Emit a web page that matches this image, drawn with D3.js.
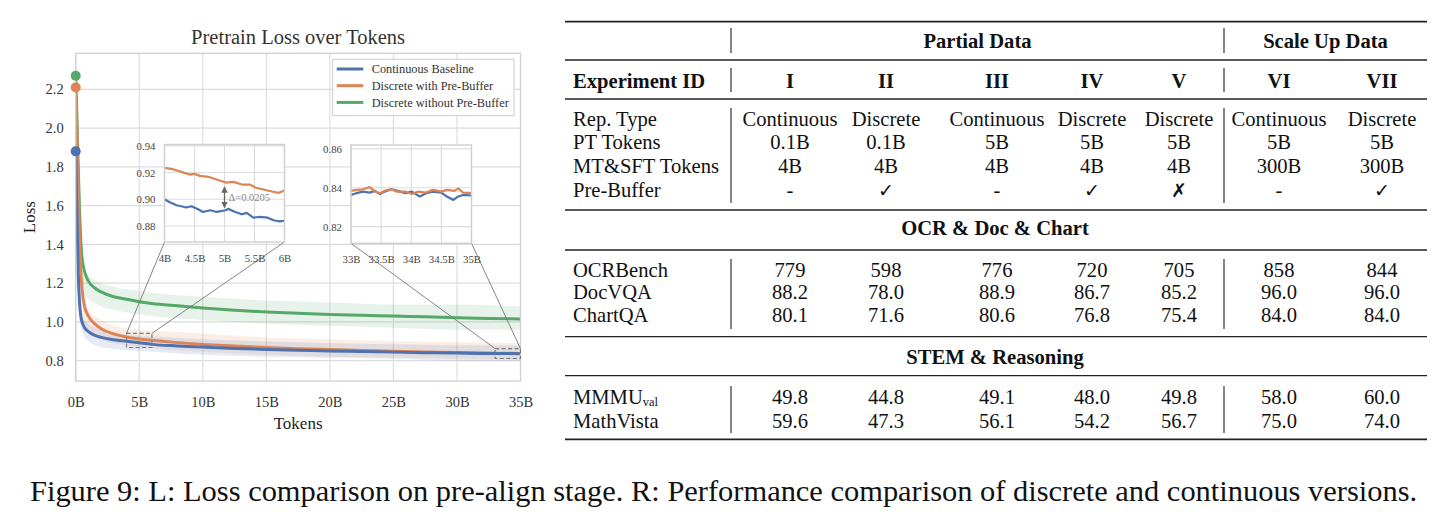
<!DOCTYPE html>
<html><head><meta charset="utf-8">
<script src="https://cdn.jsdelivr.net/npm/d3@7"></script>
<style>
html,body{margin:0;padding:0;background:#fff;}
svg{display:block;}
text{font-family:"Liberation Serif","Times New Roman",serif;}
</style></head>
<body>
<svg id="fig" width="1448" height="523" font-family='"Liberation Serif","Times New Roman",serif'></svg>
<script>
// ---------------- DATA ----------------
const seriesNames = ["Continuous Baseline", "Discrete with Pre-Buffer", "Discrete without Pre-Buffer"];
const tokensB   = [0, 0.1, 0.2, 0.3, 0.4, 0.5, 0.7, 1.0, 1.5, 2, 3, 4, 5, 6, 8, 10, 12.5, 15, 17.5, 20, 22.5, 25, 27.5, 30, 32.5, 35];
const lossBlue  = [1.88, 1.55, 1.25, 1.10, 1.03, 1.00, 0.970, 0.950, 0.930, 0.920, 0.908, 0.900, 0.892, 0.884, 0.876, 0.870, 0.863, 0.858, 0.854, 0.850, 0.847, 0.844, 0.841, 0.839, 0.837, 0.836];
const lossOrange= [2.21, 1.95, 1.70, 1.45, 1.27, 1.17, 1.08, 1.030, 0.990, 0.965, 0.938, 0.922, 0.912, 0.905, 0.893, 0.884, 0.875, 0.868, 0.862, 0.857, 0.853, 0.849, 0.845, 0.842, 0.839, 0.837];
const lossGreen = [2.27, 2.05, 1.80, 1.58, 1.42, 1.33, 1.26, 1.210, 1.175, 1.155, 1.130, 1.117, 1.104, 1.095, 1.083, 1.072, 1.060, 1.051, 1.044, 1.038, 1.034, 1.030, 1.026, 1.022, 1.018, 1.015];

// raw-loss envelopes (faint bands)
const bandX        = [0.3, 0.5, 1, 2, 3, 5, 7.5, 10, 15, 20, 25, 30, 35];
const blueUpper    = [1.12, 1.04, 0.99, 0.96, 0.94, 0.93, 0.92, 0.91, 0.90, 0.89, 0.885, 0.88, 0.88];
const blueLower    = [1.00, 0.95, 0.90, 0.87, 0.86, 0.85, 0.84, 0.83, 0.82, 0.815, 0.81, 0.80, 0.80];
const orangeUpper  = [1.25, 1.12, 1.06, 1.01, 0.98, 0.96, 0.95, 0.94, 0.92, 0.91, 0.90, 0.895, 0.89];
const orangeLower  = [1.08, 1.02, 0.96, 0.91, 0.89, 0.87, 0.855, 0.845, 0.83, 0.82, 0.815, 0.81, 0.805];
const greenUpper   = [1.30, 1.27, 1.24, 1.20, 1.18, 1.16, 1.14, 1.13, 1.11, 1.10, 1.09, 1.09, 1.08];
const greenLower   = [1.20, 1.15, 1.12, 1.08, 1.06, 1.04, 1.02, 1.01, 0.99, 0.98, 0.97, 0.96, 0.96];

const xTicks = [0, 5, 10, 15, 20, 25, 30, 35];
const yTicks = [0.8, 1.0, 1.2, 1.4, 1.6, 1.8, 2.0, 2.2];

// inset 1 (4B - 6B)
const in1OrangeX = [4.00, 4.14, 4.28, 4.42, 4.50, 4.59, 4.73, 4.87, 5.02, 5.15, 5.29, 5.43, 5.51, 5.65, 5.79, 5.90, 5.96, 6.00];
const in1OrangeY = [0.9235, 0.9225, 0.9205, 0.9185, 0.919, 0.9175, 0.9168, 0.9148, 0.9125, 0.913, 0.911, 0.911, 0.9088, 0.9073, 0.9058, 0.9048, 0.9058, 0.9068];
const in1BlueX   = [4.00, 4.08, 4.20, 4.28, 4.36, 4.45, 4.56, 4.64, 4.76, 4.87, 5.02, 5.06, 5.18, 5.29, 5.37, 5.48, 5.60, 5.71, 5.82, 5.90, 6.00];
const in1BlueY   = [0.900, 0.898, 0.8955, 0.8948, 0.8938, 0.8948, 0.8925, 0.8905, 0.8918, 0.8905, 0.8918, 0.8928, 0.8905, 0.8888, 0.8898, 0.8863, 0.8868, 0.8863, 0.8843, 0.8835, 0.8838];
const in1XTicks = [4, 4.5, 5, 5.5, 6];
const in1XLabels = ["4B", "4.5B", "5B", "5.5B", "6B"];
const in1YTicks = [0.88, 0.90, 0.92, 0.94];
const in1Domain = [0.868, 0.941];
const deltaLabel = "Δ=0.0205";
const deltaAt = 5.0, deltaTop = 0.9093, deltaBottom = 0.8938;

// inset 2 (33B - 35B)
const in2OrangeX = [33.00, 33.09, 33.20, 33.31, 33.40, 33.48, 33.56, 33.67, 33.76, 33.90, 34.01, 34.12, 34.25, 34.36, 34.50, 34.59, 34.72, 34.78, 34.86, 35.00];
const in2OrangeY = [0.8384, 0.8389, 0.8392, 0.8403, 0.8380, 0.8372, 0.8385, 0.8392, 0.8380, 0.8380, 0.8368, 0.8380, 0.8375, 0.8389, 0.8380, 0.8389, 0.8384, 0.8397, 0.8375, 0.8372];
const in2BlueX   = [33.00, 33.09, 33.20, 33.31, 33.40, 33.48, 33.56, 33.67, 33.78, 33.90, 34.01, 34.14, 34.25, 34.36, 34.50, 34.59, 34.70, 34.78, 34.86, 35.00];
const in2BlueY   = [0.8363, 0.8372, 0.8380, 0.8375, 0.8384, 0.8367, 0.8380, 0.8392, 0.8384, 0.8372, 0.8380, 0.8355, 0.8372, 0.8380, 0.8375, 0.8355, 0.8337, 0.8355, 0.8363, 0.8360];
const in2XTicks = [33, 33.5, 34, 34.5, 35];
const in2XLabels = ["33B", "33.5B", "34B", "34.5B", "35B"];
const in2YTicks = [0.82, 0.84, 0.86];
const in2Domain = [0.8114, 0.862];

// table
const groupHeaders = ["Partial Data", "Scale Up Data"];
const expIds   = ["I", "II", "III", "IV", "V", "VI", "VII"];
const repType  = ["Continuous", "Discrete", "Continuous", "Discrete", "Discrete", "Continuous", "Discrete"];
const ptTokens = ["0.1B", "0.1B", "5B", "5B", "5B", "5B", "5B"];
const mtTokens = ["4B", "4B", "4B", "4B", "4B", "300B", "300B"];
const preBuffer= ["-", "\u2713", "-", "\u2713", "\u2717", "-", "\u2713"];
const sections = ["OCR & Doc & Chart", "STEM & Reasoning"];
const ocrBench = ["779", "598", "776", "720", "705", "858", "844"];
const docVQA   = ["88.2", "78.0", "88.9", "86.7", "85.2", "96.0", "96.0"];
const chartQA  = ["80.1", "71.6", "80.6", "76.8", "75.4", "84.0", "84.0"];
const mmmuVal  = ["49.8", "44.8", "49.1", "48.0", "49.8", "58.0", "60.0"];
const mathVista= ["59.6", "47.3", "56.1", "54.2", "56.7", "75.0", "74.0"];
const caption = "Figure 9: L: Loss comparison on pre-align stage. R: Performance comparison of discrete and continuous versions.";

// ---------------- DRAW ----------------
const SERIF = '"Liberation Serif","Times New Roman",serif';
const svg = d3.select("#fig");
const defs = svg.append("defs");
const colors = ["#4c72b0", "#dd8452", "#55a868"];
const gridC = "#dcdcdc", frameC = "#cfcfcf";

// main chart
const P = {l: 75.7, r: 520.5, t: 53.3, b: 381};
const x = d3.scaleLinear().domain([0, 35]).range([P.l, P.r]);
const y = d3.scaleLinear().domain([0.695, 2.386]).range([P.b, P.t]);
const main = svg.append("g");
defs.append("clipPath").attr("id", "clipMain")
  .append("rect").attr("x", P.l).attr("y", P.t).attr("width", P.r - P.l).attr("height", P.b - P.t);

// grid
main.append("g").selectAll("line").data(xTicks).join("line")
  .attr("x1", d => x(d)).attr("x2", d => x(d)).attr("y1", P.t).attr("y2", P.b)
  .attr("stroke", gridC).attr("stroke-width", 1.1);
main.append("g").selectAll("line").data(yTicks).join("line")
  .attr("y1", d => y(d)).attr("y2", d => y(d)).attr("x1", P.l).attr("x2", P.r)
  .attr("stroke", gridC).attr("stroke-width", 1.1);

// axes labels via d3 axes (no tick lines)
const xAxis = main.append("g").attr("transform", `translate(0,${P.b})`)
  .call(d3.axisBottom(x).tickValues(xTicks).tickFormat(d => d + "B").tickSize(0).tickPadding(16));
const yAxis = main.append("g").attr("transform", `translate(${P.l},0)`)
  .call(d3.axisLeft(y).tickValues(yTicks).tickFormat(d3.format(".1f")).tickSize(0).tickPadding(12));
[xAxis, yAxis].forEach(a => {
  a.attr("font-family", SERIF);
  a.select(".domain").remove();
  a.selectAll("text").attr("font-size", 14.5).attr("fill", "#333");
});

// bands
const bands = [[blueUpper, blueLower], [orangeUpper, orangeLower], [greenUpper, greenLower]];
const plotG = main.append("g").attr("clip-path", "url(#clipMain)");
const areaGen = d3.area().x(d => x(d.x)).y0(d => y(d.lo)).y1(d => y(d.hi)).curve(d3.curveMonotoneX);
[2, 1, 0].forEach(i => {
  const pts = bandX.map((bx, k) => ({x: bx, hi: bands[i][0][k], lo: bands[i][1][k]}));
  plotG.append("path").attr("d", areaGen(pts)).attr("fill", colors[i]).attr("fill-opacity", 0.14);
});

// lines
const lineGen = d3.line().x(d => x(d[0])).y(d => y(d[1])).curve(d3.curveMonotoneX);
const lossSeries = [lossBlue, lossOrange, lossGreen];
[2, 1, 0].forEach(i => {
  plotG.append("path").attr("d", lineGen(tokensB.map((t, k) => [t, lossSeries[i][k]])))
    .attr("fill", "none").attr("stroke", colors[i]).attr("stroke-width", 3).attr("stroke-linejoin", "round");
});

// frame
main.append("rect").attr("x", P.l).attr("y", P.t).attr("width", P.r - P.l).attr("height", P.b - P.t)
  .attr("fill", "none").attr("stroke", frameC).attr("stroke-width", 1.3);

// start markers
[0, 1, 2].forEach(i => {
  main.append("circle").attr("cx", x(tokensB[0])).attr("cy", y(lossSeries[i][0])).attr("r", 5).attr("fill", colors[i]);
});

// title & axis titles
main.append("text").attr("x", (P.l + P.r) / 2).attr("y", 44).attr("text-anchor", "middle")
  .attr("font-size", 20.5).attr("fill", "#333").text("Pretrain Loss over Tokens");
main.append("text").attr("x", (P.l + P.r) / 2).attr("y", 429).attr("text-anchor", "middle")
  .attr("font-size", 17).attr("fill", "#222").text("Tokens");
main.append("text").attr("transform", `translate(35,${(P.t + P.b) / 2}) rotate(-90)`).attr("text-anchor", "middle")
  .attr("font-size", 17).attr("fill", "#222").text("Loss");

// legend
const lg = main.append("g");
lg.append("rect").attr("x", 332.7).attr("y", 59.3).attr("width", 181.3).attr("height", 56.4)
  .attr("fill", "#fff").attr("fill-opacity", 0.85).attr("stroke", "#cccccc").attr("stroke-width", 1);
seriesNames.forEach((n, i) => {
  const ly = 69 + i * 16.7;
  lg.append("line").attr("x1", 336.7).attr("x2", 363.3).attr("y1", ly).attr("y2", ly)
    .attr("stroke", colors[i]).attr("stroke-width", 3);
  lg.append("text").attr("x", 371.7).attr("y", ly + 4.2).attr("font-size", 12.3).attr("fill", "#333").text(n);
});

// inset helper
function inset(box, xd, yd, xT, xL, yT, orangeX, orangeY, blueX, blueY) {
  const ix = d3.scaleLinear().domain(xd).range([box.l, box.r]);
  const iy = d3.scaleLinear().domain(yd).range([box.b, box.t]);
  main.append("rect").attr("x", x(xd[0])).attr("y", y(yd[1])).attr("width", x(xd[1]) - x(xd[0]))
    .attr("height", y(yd[0]) - y(yd[1])).attr("fill", "none").attr("stroke", "#777")
    .attr("stroke-width", 1.1).attr("stroke-dasharray", "4,2.5");
  main.append("line").attr("x1", x(xd[0])).attr("y1", y(yd[1])).attr("x2", box.l).attr("y2", box.b)
    .attr("stroke", "#777").attr("stroke-width", 0.9);
  main.append("line").attr("x1", x(xd[1])).attr("y1", y(yd[1])).attr("x2", box.r).attr("y2", box.b)
    .attr("stroke", "#777").attr("stroke-width", 0.9);
  const g = svg.append("g");
  const cid = "clip" + Math.round(box.l);
  defs.append("clipPath").attr("id", cid).append("rect")
    .attr("x", box.l).attr("y", box.t).attr("width", box.r - box.l).attr("height", box.b - box.t);
  g.append("rect").attr("x", box.l).attr("y", box.t).attr("width", box.r - box.l).attr("height", box.b - box.t).attr("fill", "#fff");
  g.append("g").selectAll("line").data(xT).join("line")
    .attr("x1", d => ix(d)).attr("x2", d => ix(d)).attr("y1", box.t).attr("y2", box.b)
    .attr("stroke", gridC).attr("stroke-width", 1.1);
  g.append("g").selectAll("line").data(yT).join("line")
    .attr("y1", d => iy(d)).attr("y2", d => iy(d)).attr("x1", box.l).attr("x2", box.r)
    .attr("stroke", gridC).attr("stroke-width", 1.1);
  const ax = g.append("g").attr("transform", `translate(0,${box.b})`)
    .call(d3.axisBottom(ix).tickValues(xT).tickFormat((d, k) => xL[k]).tickSize(0).tickPadding(12));
  const ay = g.append("g").attr("transform", `translate(${box.l},0)`)
    .call(d3.axisLeft(iy).tickValues(yT).tickFormat(d3.format(".2f")).tickSize(0).tickPadding(9));
  [ax, ay].forEach(a => {
    a.attr("font-family", SERIF);
    a.select(".domain").remove();
    a.selectAll("text").attr("font-size", 10.8).attr("fill", "#444");
  });
  const lg2 = d3.line().x(d => ix(d[0])).y(d => iy(d[1]));
  const cg = g.append("g").attr("clip-path", `url(#${cid})`);
  cg.append("path").attr("d", lg2(blueX.map((v, k) => [v, blueY[k]]))).attr("fill", "none")
    .attr("stroke", colors[0]).attr("stroke-width", 2.2).attr("stroke-linejoin", "round");
  cg.append("path").attr("d", lg2(orangeX.map((v, k) => [v, orangeY[k]]))).attr("fill", "none")
    .attr("stroke", colors[1]).attr("stroke-width", 2.2).attr("stroke-linejoin", "round");
  g.append("rect").attr("x", box.l).attr("y", box.t).attr("width", box.r - box.l).attr("height", box.b - box.t)
    .attr("fill", "none").attr("stroke", frameC).attr("stroke-width", 1.4);
  return {g, ix, iy};
}

const in1 = inset({l: 164.5, r: 284.5, t: 144.5, b: 242}, [4, 6], in1Domain, in1XTicks, in1XLabels, in1YTicks,
  in1OrangeX, in1OrangeY, in1BlueX, in1BlueY);
const in2 = inset({l: 351, r: 471.5, t: 145, b: 243.3}, [33, 35], in2Domain, in2XTicks, in2XLabels, in2YTicks,
  in2OrangeX, in2OrangeY, in2BlueX, in2BlueY);

// delta arrow
defs.append("marker").attr("id", "ah").attr("viewBox", "0 0 10 10").attr("refX", 9).attr("refY", 5)
  .attr("markerWidth", 5).attr("markerHeight", 5).attr("orient", "auto-start-reverse")
  .append("path").attr("d", "M0,0 L10,5 L0,10 z").attr("fill", "#666");
in1.g.append("line").attr("x1", in1.ix(deltaAt)).attr("x2", in1.ix(deltaAt))
  .attr("y1", in1.iy(deltaTop)).attr("y2", in1.iy(deltaBottom))
  .attr("stroke", "#666").attr("stroke-width", 1.3)
  .attr("marker-start", "url(#ah)").attr("marker-end", "url(#ah)");
in1.g.append("text").attr("x", in1.ix(deltaAt) + 4).attr("y", in1.iy((deltaTop + deltaBottom) / 2) + 3.5)
  .attr("font-size", 10.5).attr("fill", "#888").text(deltaLabel);

// ---------------- TABLE ----------------
const T = svg.append("g").attr("font-family", SERIF);
const FS = 20.6;
const tl = 565, tr = 1427, labelX = 573;
const colX = [790, 886, 997, 1092, 1179, 1279, 1382];
const vbar = [731, 1224];
const rule = (yy, w) => T.append("line").attr("x1", tl).attr("x2", tr).attr("y1", yy).attr("y2", yy)
  .attr("stroke", "#222").attr("stroke-width", w);
rule(21.7, 1.8); rule(60, 1.3); rule(99, 1.3); rule(210, 1.3); rule(250, 1.3); rule(336.7, 1.3); rule(375.7, 1.3); rule(439.3, 1.8);
const vseg = (x0, y0, y1) => T.append("line").attr("x1", x0).attr("x2", x0).attr("y1", y0).attr("y2", y1)
  .attr("stroke", "#222").attr("stroke-width", 1.1);
[[28, 53], [68, 92], [108, 203], [259, 329], [386, 433]].forEach(s => {
  vseg(vbar[0], s[0], s[1]);
  vseg(vbar[1], s[0], s[1]);
});
const grpX = [(vbar[0] + vbar[1]) / 2, (vbar[1] + tr) / 2];
T.append("g").selectAll("text").data(groupHeaders).join("text").attr("x", (d, i) => grpX[i]).attr("y", 47.7)
  .attr("text-anchor", "middle").attr("font-size", FS).attr("font-weight", "bold").attr("fill", "#111").text(d => d);
T.append("text").attr("x", labelX).attr("y", 87.7).attr("font-size", FS).attr("font-weight", "bold").attr("fill", "#111").text("Experiment ID");
T.append("g").selectAll("text").data(expIds).join("text").attr("x", (d, i) => colX[i]).attr("y", 87.7)
  .attr("text-anchor", "middle").attr("font-size", FS).attr("font-weight", "bold").attr("fill", "#111").text(d => d);

const isSym = d => d === "\u2713" || d === "\u2717";
function row(label, vals, yy, sub) {
  const lt = T.append("text").attr("x", labelX).attr("y", yy).attr("font-size", FS).attr("fill", "#111");
  lt.append("tspan").text(label);
  if (sub) lt.append("tspan").attr("dy", 2).attr("font-size", 12.5).text(sub);
  T.append("g").selectAll("text").data(vals).join("text").attr("x", (d, i) => colX[i]).attr("y", yy)
    .attr("text-anchor", "middle").attr("fill", "#111")
    .attr("font-family", d => isSym(d) ? '"DejaVu Sans",sans-serif' : SERIF)
    .attr("font-size", d => isSym(d) ? 19 : FS)
    .text(d => d);
}
row("Rep. Type", repType, 126);
row("PT Tokens", ptTokens, 149.3);
row("MT&SFT Tokens", mtTokens, 172.7);
row("Pre-Buffer", preBuffer, 196.5);
T.append("text").attr("x", 995).attr("y", 235).attr("text-anchor", "middle").attr("font-size", FS)
  .attr("font-weight", "bold").attr("fill", "#111").text(sections[0]);
row("OCRBench", ocrBench, 276.7);
row("DocVQA", docVQA, 299.3);
row("ChartQA", chartQA, 321.7);
T.append("text").attr("x", 995).attr("y", 364).attr("text-anchor", "middle").attr("font-size", FS)
  .attr("font-weight", "bold").attr("fill", "#111").text(sections[1]);
row("MMMU", mmmuVal, 403.8, "val");
row("MathVista", mathVista, 427.5);

// caption
const cap = svg.append("text").attr("x", 30).attr("y", 501).attr("font-family", SERIF)
  .attr("font-size", 24).attr("fill", "#111").text(caption);
const cw = cap.node().getComputedTextLength();
cap.attr("font-size", 24 * 1388 / cw);
</script>
</body></html>
